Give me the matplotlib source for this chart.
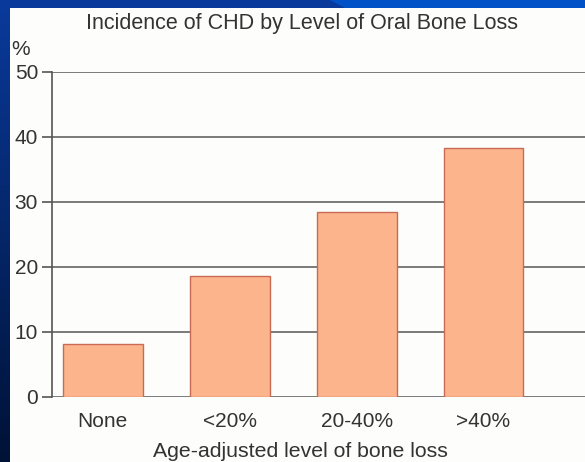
import numpy as np
import matplotlib
matplotlib.use("Agg")
import matplotlib.pyplot as plt
from matplotlib.patches import Rectangle, Polygon

# data
categories = ["None", "<20%", "20-40%", ">40%"]
incidence = [8.1, 18.5, 28.4, 38.2]
yticks = [0, 10, 20, 30, 40, 50]

plt.rcParams['font.family'] = ['Liberation Sans', 'DejaVu Sans']

W, H = 585, 462
fig = plt.figure(figsize=(W / 100, H / 100), dpi=100)

# slide frame: dark blue edges, white content area
bg = fig.add_axes([0, 0, 1, 1])
bg.set_xlim(0, W); bg.set_ylim(H, 0); bg.axis('off')
grad = np.linspace(0, 1, 256).reshape(-1, 1)
bg.imshow(grad, extent=[0, W, H, 0], aspect='auto',
          cmap=matplotlib.colors.LinearSegmentedColormap.from_list('b', ['#0a3a9c', '#001236']))
bg.add_patch(Polygon([[330, 0], [W, 0], [W, 8], [345, 8]], closed=True, color='#0052c6', lw=0))
bg.add_patch(Rectangle((10, 8), W - 10, H - 8, color='#fdfdfc', lw=0))

ax = fig.add_axes([52 / W, 1 - 396.7 / H, 1 - 52 / W, (396.7 - 71.7) / H])
ax.set_facecolor('none')
x = np.arange(len(categories))
ax.bar(x, incidence, width=0.63, color='#fbb48c', edgecolor='#c86a55', linewidth=1.0, zorder=3)

ax.set_ylim(0, 50)
ax.set_xlim(-0.40, 3.80)
ax.set_yticks(yticks)
ax.yaxis.grid(True, color='#7a7a7a', linewidth=1.4, zorder=0)
ax.set_axisbelow(True)
for s in ['top', 'right', 'bottom']:
    ax.spines[s].set_visible(False)
ax.spines['left'].set_color('#555555')
ax.spines['left'].set_linewidth(1.2)
ax.tick_params(axis='y', length=7, width=1.2, color='#555555', labelsize=15,
               labelcolor='#333333', pad=3)
ax.tick_params(axis='x', length=0, labelsize=15, labelcolor='#333333', pad=11)
ax.set_xticks(x)
ax.set_xticklabels(categories)

fig.text(300 / W, 1 - 457 / H, 'Age-adjusted level of bone loss',
         fontsize=15.3, color='#333333', ha='center', va='baseline')
fig.text(302 / W, 1 - 29 / H, 'Incidence of CHD by Level of Oral Bone Loss',
         fontsize=15.5, color='#333333', ha='center', va='baseline')
fig.text(11 / W, 1 - 55 / H, '%', fontsize=15, color='#333333', ha='left', va='baseline')

fig.savefig('out.png', dpi=100)
